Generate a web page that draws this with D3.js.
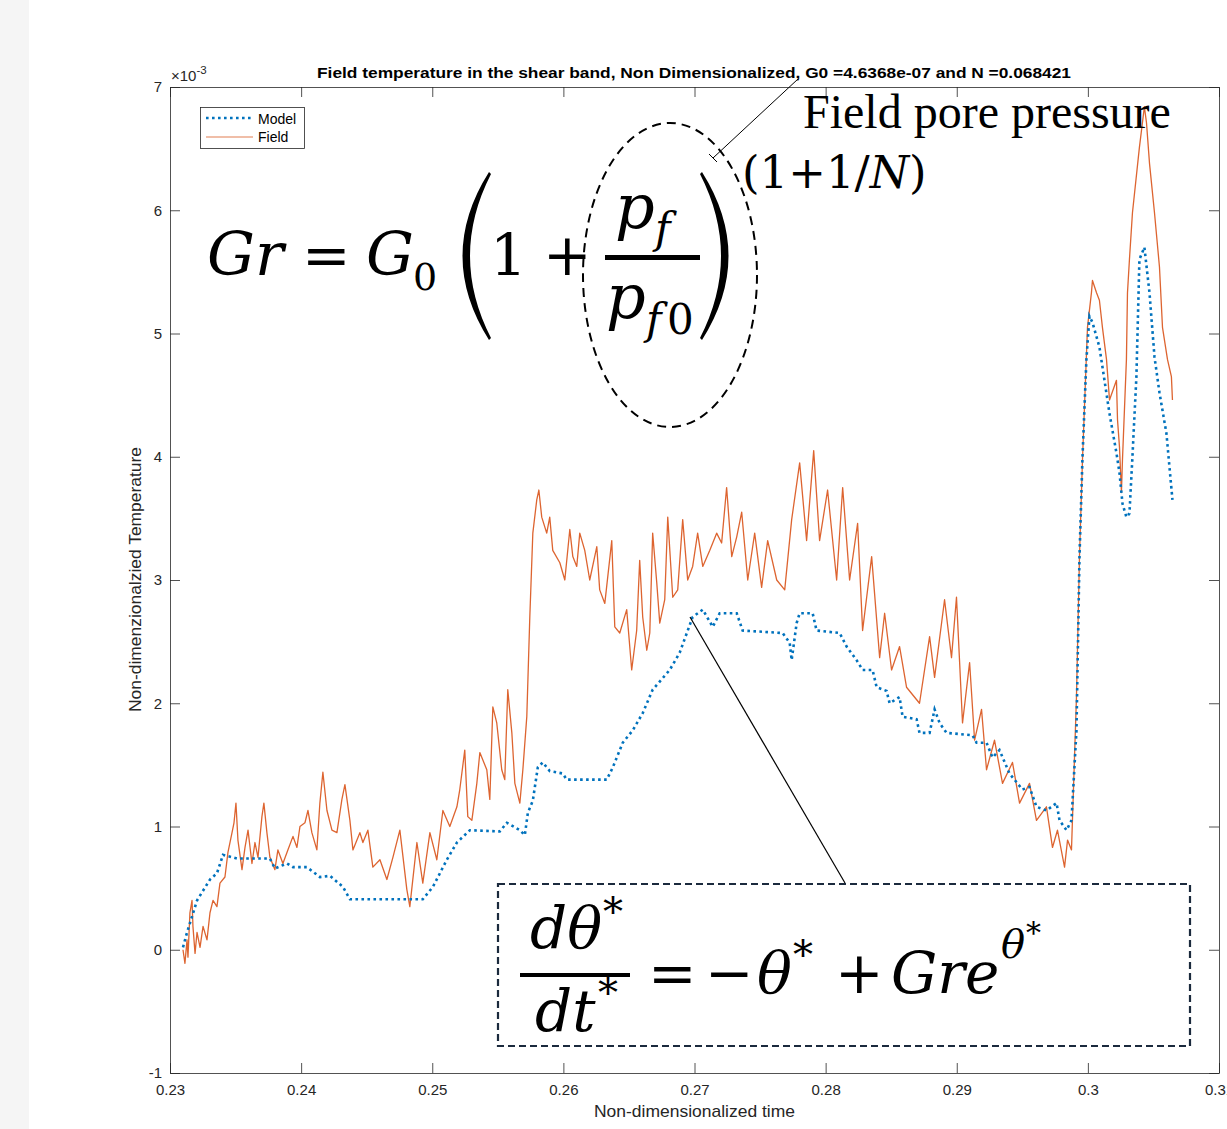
<!DOCTYPE html>
<html><head><meta charset="utf-8">
<script src="https://cdn.jsdelivr.net/npm/d3@7"></script>
<style>
html,body{margin:0;padding:0;background:#fff;}
svg{display:block;}
</style></head>
<body>
<svg id="chart" width="1227" height="1129"></svg>
<script>
// ---------- DATA ----------
const titleText = "Field temperature in the shear band, Non Dimensionalized, G0 =4.6368e-07 and N =0.068421";
const xLabel = "Non-dimensionalized time";
const yLabel = "Non-dimenzionalzied Temperature";
const xTicks = [0.23,0.24,0.25,0.26,0.27,0.28,0.29,0.30,0.31];
const yTicks = [-1,0,1,2,3,4,5,6,7];
const seriesNames = ["Model","Field"];

// Model (x10^-3) vs time
const modelT = [0.23099,0.23130,0.23206,0.23305,0.23358,0.23404,0.23511,0.23762,0.23800,0.23892,0.23938,0.24044,0.24143,0.24220,0.24319,0.24372,0.24928,0.25005,0.25111,0.25188,0.25287,0.25515,0.25569,0.25668,0.25706,0.25729,0.25767,0.25805,0.25843,0.25896,0.25995,0.26026,0.26331,0.26377,0.26453,0.26529,0.26605,0.26681,0.26811,0.26887,0.26986,0.27063,0.27139,0.27192,0.27322,0.27367,0.27672,0.27726,0.27741,0.27779,0.27802,0.27901,0.27931,0.28107,0.28160,0.28236,0.28282,0.28358,0.28389,0.28465,0.28488,0.28564,0.28587,0.28694,0.28716,0.28793,0.28831,0.28869,0.28922,0.29120,0.29151,0.29227,0.29273,0.29326,0.29402,0.29501,0.29555,0.29608,0.29684,0.29761,0.29784,0.29837,0.29875,0.29913,0.29936,0.29959,0.29989,0.30012,0.30035,0.30088,0.30111,0.30165,0.30218,0.30241,0.30264,0.30294,0.30317,0.30340,0.30370,0.30393,0.30431,0.30470,0.30508,0.30546,0.30599,0.30645];
const modelV = [0.02,0.14,0.40,0.57,0.62,0.77,0.74,0.74,0.66,0.70,0.67,0.67,0.59,0.60,0.51,0.41,0.41,0.51,0.73,0.87,0.97,0.96,1.03,0.97,0.93,1.11,1.21,1.48,1.52,1.45,1.43,1.38,1.38,1.48,1.68,1.78,1.92,2.11,2.27,2.41,2.70,2.76,2.62,2.73,2.73,2.59,2.57,2.49,2.35,2.65,2.73,2.73,2.59,2.57,2.46,2.35,2.27,2.27,2.13,2.10,2.00,2.05,1.89,1.87,1.76,1.76,1.95,1.84,1.76,1.74,1.68,1.68,1.56,1.62,1.43,1.30,1.32,1.16,1.13,1.19,1.05,0.97,1.05,1.78,3.19,4.00,4.79,5.14,5.09,4.89,4.73,4.35,4.03,3.87,3.62,3.51,3.54,4.00,4.65,5.60,5.70,5.33,4.81,4.52,4.19,3.65];

// Field (x10^-3) vs time
const fieldT = [0.23099,0.23114,0.23130,0.23137,0.23152,0.23168,0.23175,0.23191,0.23206,0.23229,0.23252,0.23282,0.23305,0.23328,0.23358,0.23381,0.23419,0.23442,0.23473,0.23488,0.23503,0.23518,0.23549,0.23572,0.23595,0.23625,0.23648,0.23671,0.23701,0.23716,0.23739,0.23762,0.23800,0.23823,0.23861,0.23899,0.23938,0.23968,0.23991,0.24029,0.24052,0.24082,0.24120,0.24143,0.24166,0.24197,0.24235,0.24273,0.24311,0.24334,0.24372,0.24395,0.24448,0.24471,0.24509,0.24547,0.24601,0.24654,0.24700,0.24753,0.24806,0.24829,0.24883,0.24928,0.24982,0.25035,0.25081,0.25134,0.25188,0.25210,0.25248,0.25271,0.25302,0.25340,0.25363,0.25416,0.25439,0.25462,0.25492,0.25530,0.25553,0.25576,0.25607,0.25630,0.25668,0.25691,0.25721,0.25744,0.25767,0.25797,0.25813,0.25835,0.25873,0.25896,0.25919,0.25973,0.26011,0.26049,0.26072,0.26102,0.26125,0.26163,0.26201,0.26255,0.26277,0.26316,0.26369,0.26392,0.26430,0.26483,0.26521,0.26559,0.26582,0.26605,0.26636,0.26659,0.26681,0.26712,0.26735,0.26773,0.26796,0.26834,0.26872,0.26910,0.26948,0.26986,0.27024,0.27063,0.27116,0.27169,0.27207,0.27245,0.27284,0.27322,0.27360,0.27406,0.27459,0.27512,0.27558,0.27627,0.27688,0.27741,0.27802,0.27855,0.27909,0.27954,0.28015,0.28084,0.28130,0.28183,0.28244,0.28282,0.28351,0.28412,0.28450,0.28503,0.28564,0.28617,0.28716,0.28793,0.28831,0.28907,0.28960,0.28998,0.29044,0.29098,0.29136,0.29189,0.29227,0.29288,0.29349,0.29425,0.29479,0.29555,0.29608,0.29684,0.29730,0.29768,0.29822,0.29845,0.29875,0.29913,0.29936,0.29959,0.29997,0.30027,0.30035,0.30066,0.30088,0.30111,0.30142,0.30165,0.30218,0.30226,0.30241,0.30256,0.30264,0.30294,0.30302,0.30317,0.30340,0.30393,0.30431,0.30447,0.30470,0.30508,0.30546,0.30569,0.30607,0.30637,0.30645];
const fieldV = [0.00,-0.11,0.08,-0.06,0.30,0.40,0.19,-0.03,0.14,0.02,0.19,0.08,0.30,0.40,0.35,0.54,0.59,0.79,0.95,1.03,1.19,0.89,0.65,0.83,0.97,0.70,0.87,0.75,1.08,1.19,0.95,0.75,0.65,0.81,0.70,0.81,0.92,0.83,1.00,1.03,1.13,0.95,0.81,1.19,1.44,1.13,0.97,0.95,1.22,1.34,1.05,0.81,0.95,0.87,0.97,0.67,0.73,0.57,0.75,0.97,0.49,0.35,0.87,0.54,0.95,0.73,1.13,1.00,1.16,1.30,1.62,1.08,1.05,1.35,1.60,1.46,1.22,1.97,1.84,1.46,1.38,2.11,1.76,1.35,1.19,1.46,1.89,2.70,3.38,3.65,3.73,3.51,3.38,3.51,3.24,3.14,3.00,3.41,3.19,3.11,3.38,3.24,3.00,3.27,2.92,2.81,3.32,2.62,2.57,2.76,2.27,2.59,3.16,2.70,2.43,2.57,3.38,2.98,2.65,2.84,3.51,2.86,2.92,3.49,3.00,3.11,3.38,3.11,3.24,3.38,3.30,3.75,3.19,3.35,3.55,3.00,3.38,2.94,3.32,3.00,2.92,3.49,3.95,3.32,4.05,3.32,3.73,3.00,3.75,3.00,3.46,2.59,3.19,2.37,2.73,2.27,2.46,2.13,2.00,2.54,2.21,2.84,2.37,2.86,1.84,2.33,1.70,1.95,1.46,1.70,1.35,1.52,1.19,1.35,1.05,1.16,0.83,0.97,0.67,0.89,0.81,2.05,3.19,3.98,5.05,5.33,5.43,5.33,5.27,5.05,4.79,4.46,4.62,4.30,4.08,3.71,3.98,4.79,5.33,5.60,5.98,6.51,6.84,6.71,6.38,5.98,5.54,5.05,4.79,4.65,4.46];

// ---------- CHART ----------
const svg = d3.select("#chart");
const W = 1227, H = 1129;
const L = 170, R = 1219, T = 87, B = 1073;
const axisColor = "#262626";
const font = "'Liberation Sans', Arial, Helvetica, sans-serif";
const mathFont = "'DejaVu Serif', serif";
const modelColor = "#0072BD", fieldColor = "#D95319";

svg.append("rect").attr("x",0).attr("y",0).attr("width",W).attr("height",H).attr("fill","#fff");
svg.append("rect").attr("x",0).attr("y",0).attr("width",29).attr("height",H).attr("fill","#f5f5f5");

const x = d3.scaleLinear().domain([0.23,0.31]).range([L,R]);
const y = d3.scaleLinear().domain([-1,7]).range([B,T]);

const fmtX = d => String(+d.toFixed(2));
const fmtY = d => String(d);

function styleAxis(g){
  g.select(".domain").attr("stroke",axisColor).attr("stroke-width",0.8);
  g.selectAll(".tick line").attr("stroke",axisColor).attr("stroke-width",0.8);
  g.selectAll(".tick text").attr("fill",axisColor).attr("font-family",font).attr("font-size",15);
}

svg.append("g").attr("transform",`translate(0,${B})`)
  .call(d3.axisBottom(x).tickValues(xTicks).tickFormat(fmtX).tickSizeInner(-10).tickSizeOuter(0).tickPadding(11))
  .call(styleAxis);
svg.append("g").attr("transform",`translate(0,${T})`)
  .call(d3.axisTop(x).tickValues(xTicks).tickFormat("").tickSizeInner(-10).tickSizeOuter(0))
  .call(styleAxis);
svg.append("g").attr("transform",`translate(${L},0)`)
  .call(d3.axisLeft(y).tickValues(yTicks).tickFormat(fmtY).tickSizeInner(-10).tickSizeOuter(0).tickPadding(8))
  .call(styleAxis);
svg.append("g").attr("transform",`translate(${R},0)`)
  .call(d3.axisRight(y).tickValues(yTicks).tickFormat("").tickSizeInner(-10).tickSizeOuter(0))
  .call(styleAxis);

// exponent label
const ex = svg.append("text").attr("x",171).attr("y",81).attr("font-family",font).attr("font-size",15).attr("fill",axisColor);
ex.append("tspan").text("×10");
ex.append("tspan").attr("dy",-7).attr("font-size",11.5).text("-3");

// title
svg.append("text").attr("x",(L+R)/2 - 0.5).attr("y",78).attr("text-anchor","middle")
  .attr("font-family",font).attr("font-weight","bold").attr("font-size",14.5).attr("fill","#000")
  .attr("textLength",754).attr("lengthAdjust","spacingAndGlyphs").text(titleText);

// axis labels
svg.append("text").attr("x",(L+R)/2).attr("y",1117).attr("text-anchor","middle")
  .attr("font-family",font).attr("font-size",17).attr("fill",axisColor)
  .attr("textLength",201).attr("lengthAdjust","spacingAndGlyphs").text(xLabel);
svg.append("text").attr("transform",`translate(141,${(447+712)/2}) rotate(-90)`).attr("text-anchor","middle")
  .attr("font-family",font).attr("font-size",17).attr("fill",axisColor)
  .attr("textLength",265).attr("lengthAdjust","spacingAndGlyphs").text(yLabel);

// series
const modelData = modelT.map((t,i)=>({t, v:modelV[i]}));
const fieldData = fieldT.map((t,i)=>({t, v:fieldV[i]}));
const line = d3.line().x(d=>x(d.t)).y(d=>y(d.v));

svg.append("path").datum(fieldData).attr("d",line).attr("fill","none")
  .attr("stroke",fieldColor).attr("stroke-width",1.3).attr("stroke-opacity",0.9).attr("stroke-linejoin","round");
svg.append("path").datum(modelData).attr("d",line).attr("fill","none")
  .attr("stroke",modelColor).attr("stroke-width",2.6).attr("stroke-dasharray","2.6 3.4");

// legend
const lg = svg.append("g");
lg.append("rect").attr("x",200.5).attr("y",107.5).attr("width",104).attr("height",41)
  .attr("fill","#fff").attr("stroke",axisColor).attr("stroke-width",0.8);
lg.append("line").attr("x1",206).attr("x2",253).attr("y1",118).attr("y2",118)
  .attr("stroke",modelColor).attr("stroke-width",2.6).attr("stroke-dasharray","2.6 3.4");
lg.append("line").attr("x1",206).attr("x2",253).attr("y1",137).attr("y2",137)
  .attr("stroke",fieldColor).attr("stroke-width",1.4).attr("stroke-opacity",0.5);
lg.append("text").attr("x",258).attr("y",124).attr("font-family",font).attr("font-size",14).attr("fill","#000").text(seriesNames[0]);
lg.append("text").attr("x",258).attr("y",142).attr("font-family",font).attr("font-size",14).attr("fill","#000").text(seriesNames[1]);

// ---------- ANNOTATIONS ----------
const ann = svg.append("g");
function t(txt, xx, yy, size, opts={}){
  return ann.append("text").attr("x",xx).attr("y",yy).attr("font-family",opts.family||mathFont)
    .attr("font-size",size).attr("font-style",opts.italic?"italic":"normal").attr("fill","#000").text(txt);
}
// Gr formula
t("Gr",207,275,60,{italic:true});
t("=",302,275,58);
t("G",366,275,60,{italic:true});
t("0",413,290,38);
ann.append("path").attr("d","M489 172 Q436 256 489 340 L491 338 Q449 256 491 174 Z").attr("fill","#000");
t("1",490,275,58);
t("+",543,275,58);
ann.append("rect").attr("x",605).attr("y",255).attr("width",95).attr("height",5).attr("fill","#000");
t("p",615,228,62,{italic:true});
t("f",655,243,42,{italic:true});
t("p",606,318,62,{italic:true});
t("f",646,334,42,{italic:true});
t("0",667,334,42);
ann.append("path").attr("d","M702 172 Q755 256 702 340 L700 338 Q742 256 700 174 Z").attr("fill","#000");
ann.append("ellipse").attr("cx",670).attr("cy",275).attr("rx",87).attr("ry",152)
  .attr("fill","none").attr("stroke","#000").attr("stroke-width",2).attr("stroke-dasharray","9 6");
const e1 = t("(1+1/",742,188,45);
e1.append("tspan").attr("font-style","italic").text("N");
e1.append("tspan").text(")");
t("Field pore pressure",803,128,48,{family:"'Liberation Serif','Times New Roman',serif"});
ann.append("line").attr("x1",798).attr("y1",79).attr("x2",713).attr("y2",158).attr("stroke","#000").attr("stroke-width",1);
ann.append("line").attr("x1",709).attr("y1",154).attr("x2",717).attr("y2",162).attr("stroke","#000").attr("stroke-width",1);
ann.append("line").attr("x1",690).attr("y1",617).attr("x2",845).attr("y2",883).attr("stroke","#000").attr("stroke-width",1.2);
ann.append("rect").attr("x",498).attr("y",884).attr("width",692).attr("height",162)
  .attr("fill","#fff").attr("stroke","#1b2a3d").attr("stroke-width",2.2).attr("stroke-dasharray","7 4");
// dθ*/dt* formula
t("dθ",530,948,58,{italic:true});
t("*",603,925,40);
ann.append("rect").attr("x",520).attr("y",973).attr("width",110).attr("height",4).attr("fill","#000");
t("dt",535,1031,58,{italic:true});
t("*",598,1006,40);
t("=",648,993,58);
t("−",705,993,58);
t("θ",757,993,58,{italic:true});
t("*",793,968,40);
t("+",835,993,58);
t("Gre",891,993,58,{italic:true});
t("θ",1001,958,40,{italic:true});
t("*",1026,943,30);
</script>
</body></html>
